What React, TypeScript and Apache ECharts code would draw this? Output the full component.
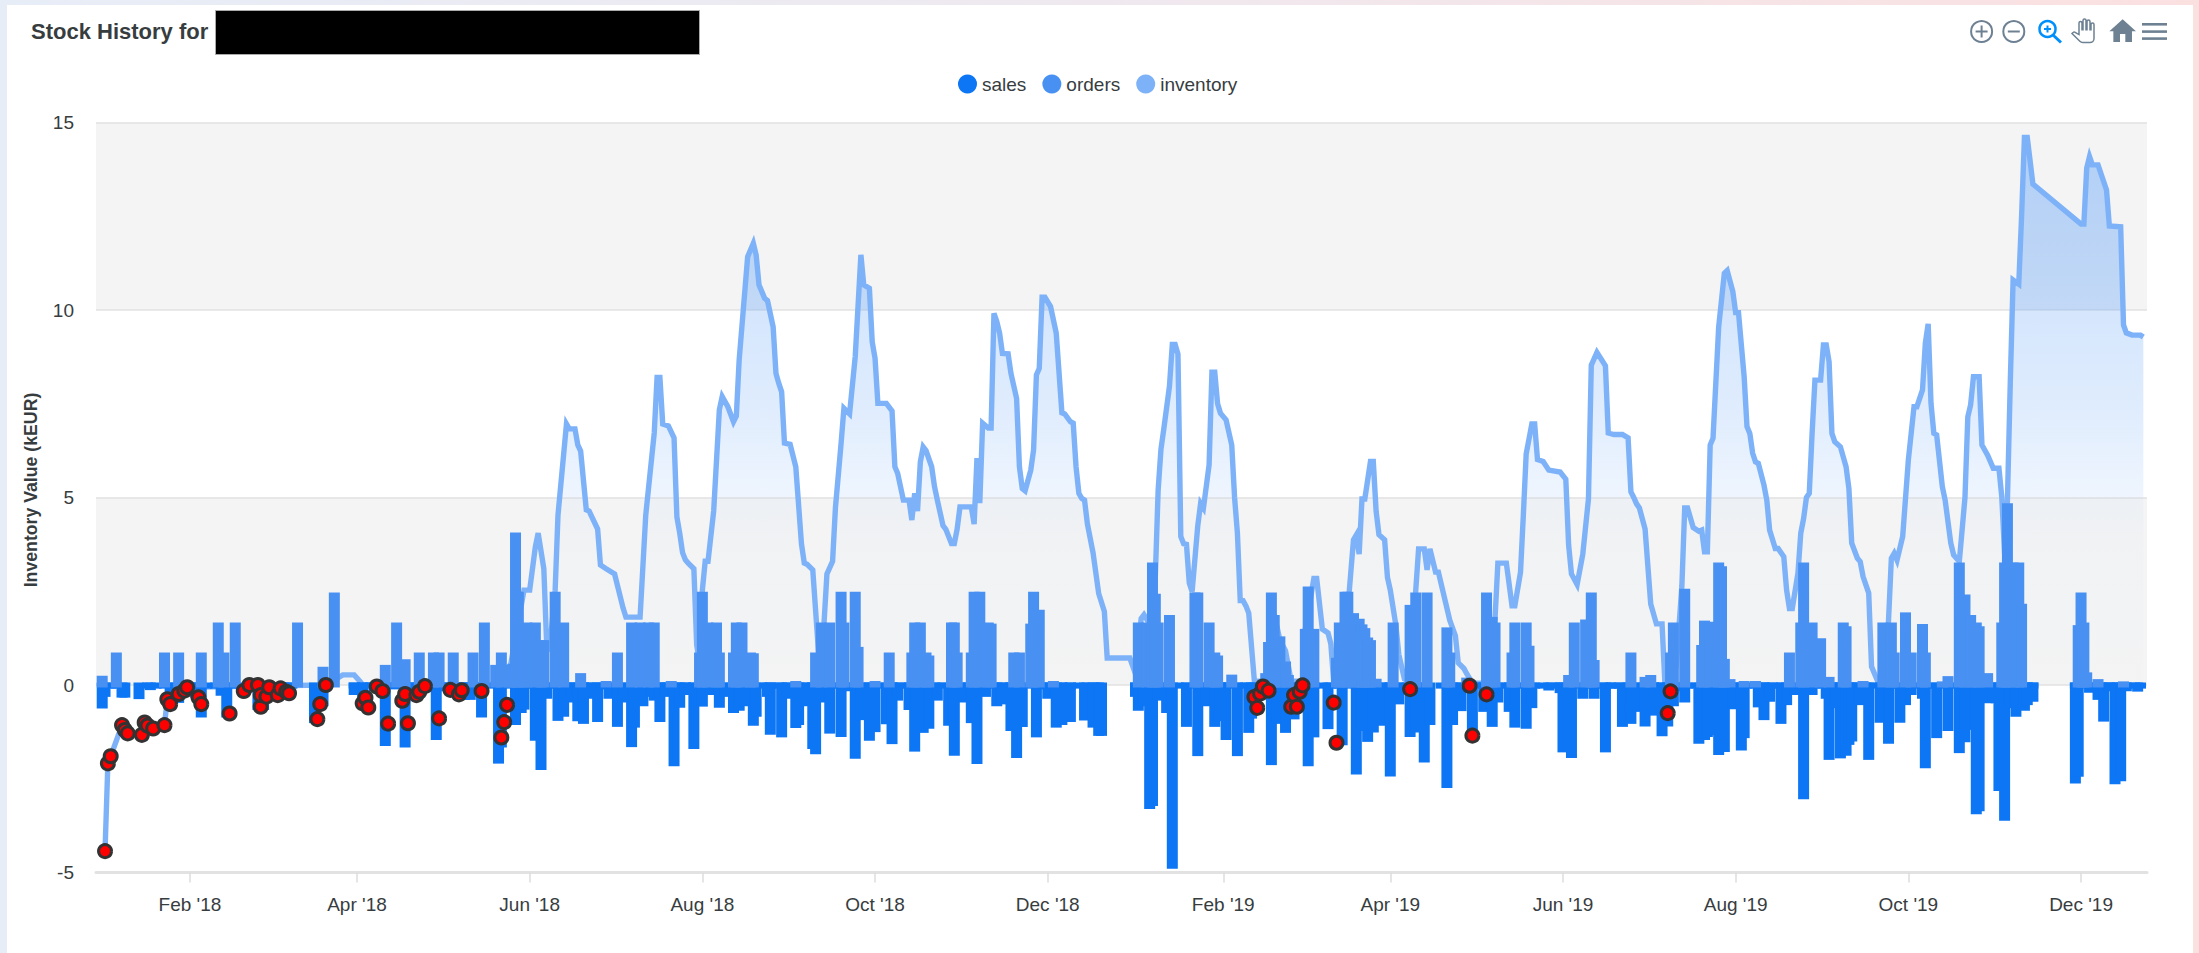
import React, { useEffect, useRef } from "react";
import * as echarts from "echarts";

// All x values below are days counted from 1 Jan 2018.
const tickDays = [31, 90, 151, 212, 273, 334, 396, 455, 516, 577, 638, 699];
const tickLabels = ["Feb '18", "Apr '18", "Jun '18", "Aug '18", "Oct '18", "Dec '18", "Feb '19", "Apr '19", "Jun '19", "Aug '19", "Oct '19", "Dec '19"];

const inventory2018: [number, number][] = [
  [1,-4.43],[2,-2.09],[3,-1.9],[7,-1.07],[8,-1.2],[9,-1.29],[14,-1.33],[15,-1.0],[16,-1.08],[18,-1.16],[22,-1.07],[23,-0.38],[24,-0.51],[27,-0.24],[29,-0.15],[30,-0.06],[79,0],[85,0.27],[89,0.27],[91,0.1],[92,0],[143,0],
  [149,2.53],[151,2.53],[153,3.68],[154,4.05],[156,3.1],[157,1.1],[158,0.9],[160,2.53],[161,4.53],[164,6.96],[165,6.83],[167,6.83],[168,6.4],[169,6.24],[171,4.67],[172,4.64],[175,4.16],[176,3.2],[178,3.1],[181,2.96],[184,2.05],[185,1.81],[190,1.81],[192,4.53],[195,6.72],[196,8.2],[197,8.2],[198,6.96],[200,6.91],[202,6.59],[203,4.48],[204,4.05],[205,3.53],[206,3.34],[207,3.25],[209,3.1],[210,1.07],[211,0.6],[212,2.53],[213,3.3],[214,3.3],[216,4.64],[218,7.34],[219,7.69],[221,7.42],[223,7.02],[224,7.17],[225,8.67],[228,11.42],[230,11.78],[231,11.47],[232,10.67],[234,10.31],[235,10.25],[237,9.55],[238,8.31],[239,8.04],[240,7.82],[241,6.45],[243,6.42],[245,5.82],[247,3.77],[248,3.25],[249,3.22],[251,3.07],[253,0.91],[254,0.05],[255,1.68],[256,2.96],[258,3.3],[259,4.72],[261,6.44],[262,7.38],[264,7.23],[266,8.76],[268,11.47],[269,10.67],[271,10.58],[272,9.15],[273,8.71],[274,7.51],[277,7.51],[279,7.31],[280,5.82],[281,5.64],[283,4.93],[285,4.93],[286,4.4],[287,5.11],[288,4.64],[289,5.95],[290,6.35],[291,6.25],[293,5.82],[294,5.29],[295,4.93],[297,4.25],[298,4.15],[300,3.77],[301,3.77],[302,4.16],[303,4.75],[307,4.75],[308,4.29],[309,6.05],[310,4.85],[311,6.98],[313,6.85],[314,6.85],[315,9.91],[316,9.69],[317,9.38],[318,8.84],[320,8.83],[321,8.31],[323,7.64],[324,5.82],[325,5.24],[326,5.18],[328,5.73],[329,6.27],[330,8.27],[331,8.44],[332,10.34],[333,10.34],[335,10.09],[337,9.38],[339,7.26],[340,7.23],[342,7.02],[343,6.98],[344,5.82],[345,5.11],[346,4.98],[347,4.93],[348,4.3],[350,3.53],[352,2.44],[354,1.96],[355,0.72],[363,0.72],
];

const inventory2019: [number, number][] = [
  [365,0.3],[367,1.77],[368,1.87],[371,1.5],[372,2.9],[373,5.2],[374,6.29],[375,6.83],[377,7.97],[378,9.08],[379,9.08],[380,8.82],[381,3.96],[382,3.77],[383,3.75],[384,2.72],[385,2.49],[387,4.25],[388,4.84],[389,4.72],[391,5.87],[392,8.34],[393,8.34],[394,7.5],[395,7.25],[397,7.07],[399,6.4],[400,5.0],[401,4.05],[402,2.25],[403,2.25],[404,2.11],[405,1.92],[407,0.1],[412,0.1],[414,1.9],[416,1.2],[418,0.91],[420,0.1],[424,0.1],[425,1.5],[428,2.84],[429,2.84],[431,1.49],[433,1.39],[434,1.1],[435,0.1],[438,0.2],[442,3.87],[443,4.0],[444,3.49],[445,4.96],[446,4.96],[448,5.96],[449,5.96],[450,4.63],[451,4.01],[453,3.87],[454,2.87],[455,2.53],[457,1.58],[458,0.82],[460,0.16],[462,0.1],[464,2.53],[465,3.63],[467,3.63],[468,3.07],[469,3.63],[471,3.01],[472,3.01],[475,2.05],[476,1.73],[478,1.31],[479,0.59],[481,0.44],[482,0.3],[484,0.05],[489,0.05],[492,1.77],[493,3.25],[496,3.25],[498,2.11],[499,2.11],[501,3.01],[502,4.53],[503,6.16],[505,6.96],[506,6.96],[507,6.01],[509,5.96],[511,5.73],[515,5.68],[517,5.49],[518,3.73],[519,2.96],[521,2.68],[523,3.49],[525,4.96],[526,8.53],[528,8.87],[531,8.51],[532,6.72],[534,6.68],[537,6.68],[539,6.59],[540,5.15],[541,5.0],[542,4.83],[543,4.72],[545,4.16],[547,2.16],[549,1.63],[551,1.63],[552,0.05],[554,0.05],[556,0.5],[558,2.64],[559,4.72],[560,4.72],[562,4.2],[564,4.1],[565,4.13],[566,3.55],[567,3.55],[568,6.4],[569,6.58],[571,9.55],[573,10.98],[574,11.05],[576,10.49],[577,9.93],[578,9.93],[580,8.22],[581,6.89],[582,6.71],[583,6.18],[584,5.95],[585,5.91],[587,5.33],[588,4.93],[589,4.13],[591,3.64],[592,3.64],[594,3.42],[595,2.53],[596,2.04],[597,2.04],[599,2.98],[600,4.05],[601,4.44],[602,5.0],[603,5.11],[604,6.71],[605,8.13],[607,8.13],[608,9.07],[609,9.07],[610,8.62],[611,6.71],[612,6.49],[614,6.35],[616,5.82],[617,5.24],[618,3.78],[620,3.38],[621,3.29],[622,2.89],[624,2.45],[625,0.49],[627,0.13],[630,0.3],[631,1.73],[632,3.38],[633,3.51],[634,3.33],[636,3.96],[638,6.0],[640,7.42],[641,7.42],[643,7.87],[644,9.11],[645,9.63],[646,7.51],[647,6.71],[648,6.67],[650,5.29],[651,4.93],[653,3.78],[654,3.47],[656,3.29],[658,5.0],[659,7.15],[660,7.47],[661,8.22],[663,8.22],[664,6.4],[666,6.13],[668,5.78],[670,5.78],[671,5.02],[672,3.5],[673,4.93],[674,8.05],[675,10.8],[677,10.69],[678,12.5],[679,14.6],[680,14.6],[682,13.36],[699,12.29],[700,12.29],[701,13.78],[702,14.09],[703,13.87],[705,13.87],[708,13.2],[709,12.24],[713,12.22],[714,9.6],[715,9.39],[717,9.33],[720,9.33],[721,9.28],
];

const stockOuts: [number, number][] = [
  [1,-4.43],[2,-2.09],[3,-1.9],[7,-1.07],[8,-1.2],[9,-1.29],[14,-1.33],[15,-1.0],[16,-1.08],[18,-1.16],[22,-1.07],[23,-0.38],[24,-0.51],[27,-0.24],[29,-0.15],[30,-0.06],[34,-0.33],[35,-0.51],[45,-0.76],[50,-0.16],[52,0],[55,0],[56,-0.58],[56,-0.27],[58,-0.31],[59,-0.06],[62,-0.27],[63,-0.09],[65,-0.18],[66,-0.22],[76,-0.91],[77,-0.51],[79,0],[92,-0.49],[93,-0.34],[94,-0.6],[97,-0.04],[99,-0.16],[101,-1.03],[106,-0.42],[107,-0.24],[108,-1.02],[111,-0.27],[112,-0.18],[114,-0.03],[119,-0.89],[123,-0.13],[126,-0.25],[127,-0.14],[134,-0.16],[141,-1.4],[142,-0.99],[143,-0.53],
  [407,-0.32],[408,-0.61],[409,-0.23],[410,-0.04],[412,-0.15],[420,-0.58],[421,-0.27],[422,-0.58],[423,-0.18],[424,-0.01],[435,-0.47],[436,-1.54],[462,-0.11],[483,-0.02],[484,-1.35],[489,-0.25],[553,-0.75],[554,-0.17],
];

const orders: [number, number][] = [
  [0,0.18],[5,0.8],[22,0.8],[27,0.8],[35,0.8],[41,1.6],[43,0.8],[47,1.6],[69,1.6],[78,0.42],[82,2.4],[100,0.47],[104,1.6],[107,0.62],[112,0.8],[117,0.8],[119,0.8],[124,0.8],[131,0.8],[135,1.6],[139,0.47],[141,0.8],[144,0.47],[145,0.5],[146,4.0],[147,2.42],[149,1.4],[150,1.6],[153,1.6],[155,1.13],[156,1.13],[160,2.42],[163,1.6],[169,0.25],[178,0.04],[182,0.8],[187,1.6],[190,1.6],[193,1.6],[195,1.6],[201,0.04],[211,0.8],[212,2.42],[214,1.6],[217,1.6],[218,0.8],[223,0.8],[224,1.6],[226,1.6],[229,0.8],[230,0.78],[245,0.04],[252,0.8],[254,1.6],[257,1.6],[261,2.42],[262,1.6],[266,2.42],[267,0.95],[273,0.04],[278,0.8],[286,0.8],[287,1.6],[289,1.6],[291,0.8],[292,0.72],[300,1.6],[301,1.6],[302,0.8],[307,0.8],[308,2.42],[310,2.42],[313,1.6],[314,1.57],[322,0.8],[324,0.8],[328,1.57],[329,2.42],[331,1.94],[336,0.04],
  [366,1.6],[369,1.6],[371,3.2],[372,2.37],[373,1.6],[377,1.8],[386,2.4],[387,2.4],[391,1.6],[393,0.8],[394,0.72],[399,0.21],[411,0.25],[412,1.08],[413,2.4],[414,1.8],[416,1.23],[418,0.56],[419,0.2],[425,1.43],[426,2.56],[428,1.43],[436,0.66],[437,1.6],[439,2.42],[440,2.42],[442,1.85],[444,1.7],[445,1.55],[446,1.45],[447,1.2],[448,1.13],[450,0.1],[456,1.6],[462,2.07],[464,2.4],[468,2.4],[475,1.47],[476,0.8],[482,0.13],[489,2.4],[491,1.75],[492,1.6],[498,0.8],[499,1.6],[503,1.6],[504,0.98],[518,0.2],[520,1.6],[524,1.68],[526,2.4],[527,0.6],[540,0.8],[545,0.15],[547,0.2],[554,0.8],[555,1.6],[559,2.5],[565,1.0],[566,1.65],[568,1.62],[571,3.2],[572,3.1],[573,0.63],[575,0.09],[580,0.04],[584,0.04],[596,0.8],[600,1.6],[601,3.2],[604,1.6],[607,1.18],[610,0.15],[615,1.6],[616,1.5],[622,0.04],[629,1.6],[632,1.6],[633,0.8],[637,1.87],[639,0.8],[643,1.56],[644,0.8],[650,0.03],[652,0.17],[656,3.2],[658,2.35],[660,1.8],[662,1.6],[663,1.5],[666,0.25],[671,1.6],[672,3.2],[673,4.78],[675,3.2],[677,3.2],[678,2.1],[698,1.53],[699,2.4],[700,1.6],[701,0.27],[705,0.09],[714,0.03],
];

const sales: [number, number][] = [
  [0,-0.56],[1,-0.25],[7,-0.27],[8,-0.27],[13,-0.31],[17,-0.07],[24,-0.3],[27,-0.41],[33,-0.27],[35,-0.8],[42,-0.22],[44,-0.8],[55,-0.6],[57,-0.6],[60,-0.3],[63,-0.2],[66,-0.2],[75,-0.95],[78,-0.5],[89,-0.2],[92,-0.46],[96,-0.1],[100,-1.56],[103,-0.05],[107,-1.6],[110,-0.1],[114,-0.1],[118,-1.4],[121,-0.1],[125,-0.1],[128,-0.33],[130,-0.33],[134,-0.8],[140,-2.03],[141,-1.6],[146,-1.0],[148,-0.68],[149,-0.59],[153,-1.42],[155,-2.2],[157,-0.3],[161,-0.89],[163,-0.78],[166,-0.4],[168,-0.9],[170,-0.97],[172,-0.3],[175,-0.92],[177,-0.05],[179,-0.3],[182,-1.05],[184,-0.4],[187,-1.59],[188,-1.07],[191,-0.5],[194,-0.25],[195,-0.35],[197,-0.92],[199,-0.25],[202,-2.1],[204,-0.54],[206,-0.2],[209,-1.64],[212,-0.51],[215,-0.2],[218,-0.54],[220,-0.25],[223,-0.68],[225,-0.62],[227,-0.5],[230,-1.02],[231,-0.78],[235,-0.25],[236,-1.26],[240,-1.33],[242,-0.3],[245,-1.08],[246,-1.0],[248,-0.5],[251,-1.64],[252,-1.78],[254,-0.4],[257,-1.23],[261,-1.32],[263,-0.1],[266,-1.9],[268,-0.87],[271,-1.42],[273,-1.19],[277,-0.98],[279,-1.51],[281,-0.35],[285,-0.6],[287,-1.71],[290,-1.21],[292,-1.1],[295,-0.35],[299,-1.02],[301,-1.82],[304,-0.4],[307,-0.95],[309,-2.04],[312,-0.25],[316,-0.5],[318,-0.45],[321,-1.16],[323,-1.88],[325,-1.05],[330,-1.33],[332,-0.05],[334,-0.3],[337,-1.07],[339,-1.0],[342,-0.92],[347,-0.88],[350,-1.07],[352,-1.29],[353,-1.29],
  [365,-0.25],[366,-0.62],[368,-0.5],[370,-3.24],[371,-3.16],[373,-0.35],[376,-0.68],[378,-4.83],[383,-1.05],[387,-1.83],[390,-0.5],[393,-1.05],[395,-0.9],[397,-1.4],[401,-1.83],[405,-1.21],[406,-0.83],[410,-0.3],[413,-2.07],[415,-0.97],[418,-1.21],[421,-0.85],[424,-0.6],[426,-2.1],[428,-1.33],[433,-1.11],[438,-1.54],[443,-2.32],[445,-1.16],[447,-1.45],[449,-1.2],[452,-1.02],[455,-2.37],[458,-0.45],[462,-1.32],[464,-1.2],[467,-2.0],[469,-1.0],[475,-2.68],[477,-1.0],[480,-0.63],[484,-1.3],[488,-0.65],[491,-1.05],[493,-0.4],[497,-0.65],[499,-1.07],[503,-1.1],[505,-0.55],[511,-0.08],[515,-0.15],[516,-1.73],[519,-1.88],[523,-0.3],[527,-0.3],[531,-1.73],[533,-0.03],[537,-1.05],[540,-0.97],[542,-0.65],[545,-1.04],[548,-0.75],[551,-1.3],[553,-1.04],[555,-0.5],[557,-0.1],[559,-0.4],[564,-1.5],[566,-1.4],[567,-1.32],[569,-1.27],[571,-1.8],[573,-1.72],[576,-0.58],[579,-1.68],[580,-1.35],[585,-0.53],[587,-0.87],[589,-0.38],[593,-0.97],[595,-0.47],[598,-0.2],[601,-2.98],[604,-0.2],[609,-0.3],[610,-1.93],[612,-0.55],[614,-1.89],[616,-1.82],[617,-1.53],[618,-1.44],[621,-0.47],[624,-1.93],[628,-0.94],[631,-1.5],[635,-0.94],[637,-0.47],[639,-0.2],[643,-0.3],[644,-2.15],[648,-1.35],[652,-1.16],[656,-1.75],[658,-1.46],[660,-1.13],[662,-3.38],[663,-3.3],[666,-0.42],[669,-0.42],[670,-2.76],[672,-3.55],[674,-0.55],[676,-0.78],[679,-0.62],[680,-0.47],[682,-0.38],[697,-2.56],[698,-2.38],[702,-0.14],[705,-0.33],[707,-0.91],[709,-0.1],[711,-2.58],[713,-2.5],[715,-0.1],[719,-0.11],
];

// Days on which only a trace of sales was booked (the thin band under the zero line).
const salesTraceDays = [3,5,16,19,22,25,28,31,34,37,40,43,46,49,52,55,58,61,64,67,89,92,95,98,101,104,107,110,113,116,119,122,125,128,131,134,137,140,143,146,149,152,155,158,161,164,167,170,173,176,179,182,185,188,191,194,197,200,203,206,209,212,215,218,221,224,227,230,233,236,239,242,245,248,251,254,257,260,263,266,269,272,275,279,282,285,288,291,294,297,300,303,306,309,312,315,318,321,324,327,330,333,336,339,342,345,348,351,365,368,371,374,377,380,383,386,389,392,395,398,401,404,407,410,413,416,419,422,425,428,431,434,437,440,443,446,449,452,455,458,461,464,467,473,476,479,482,485,488,491,494,497,500,503,506,509,512,515,518,521,524,527,530,533,536,539,542,545,548,551,554,557,560,563,566,569,572,575,578,581,584,587,590,593,596,599,602,605,608,611,614,617,620,623,626,629,632,635,638,641,644,647,650,653,656,659,662,665,668,671,674,677,680,682,697,700,703,706,709,712,715,718,720];
const salesTraceValue = -0.03;

const SALES = "#0d76f5";
const ORDERS = "#4891f3";
const INVENTORY = "#7db2f8";
const GREY = "#6e8192";
const INK = "#373d3f";
const FONT = '"Liberation Sans", Arial, sans-serif';

const PAN = "M23 5.5V20c0 2.2-1.8 4-4 4h-7.3c-1.08 0-2.1-.43-2.85-1.19L1 14.83s1.26-1.23 1.3-1.25c.22-.19.49-.29.79-.29.22 0 .42.06.6.16.04.01 4.31 2.46 4.31 2.46V4c0-.83.67-1.5 1.5-1.5S11 3.17 11 4v7h1V1.5c0-.83.67-1.5 1.5-1.5S15 .67 15 1.5V11h1V2.5c0-.83.67-1.5 1.5-1.5s1.5.67 1.5 1.5V11h1V5.5c0-.83.67-1.5 1.5-1.5s1.5.67 1.5 1.5z";
const HOME = "M10 20v-6h4v6h5v-8h3L12 3 2 12h3v8z";
echarts.graphic.registerShape("panIcon", echarts.graphic.extendPath(PAN, {}) as any);
echarts.graphic.registerShape("homeIcon", echarts.graphic.extendPath(HOME, {}) as any);

function barItem(color: string) {
  return (_: any, api: any) => {
    const t = api.value(0);
    const v = api.value(1);
    const end = api.coord([t, v]);
    const zero = api.coord([t, 0]);
    const up = v >= 0;
    const top = up ? end[1] - 2.5 : zero[1] - 2.5;
    const bottom = up ? zero[1] + 2.5 : end[1] + 2.5;
    return {
      type: "rect",
      shape: { x: end[0] - 5.5, y: top, width: 11, height: bottom - top },
      style: { fill: color },
    };
  };
}

function toolbar() {
  const ring = (cx: number, label: string) => [
    { type: "circle", shape: { cx, cy: 31.5, r: 10.5 }, style: { fill: "none", stroke: GREY, lineWidth: 2 } },
    { type: "line", shape: { x1: cx - 6, y1: 31.5, x2: cx + 6, y2: 31.5 }, style: { stroke: GREY, lineWidth: 2 } },
    ...(label === "+" ? [{ type: "line", shape: { x1: cx, y1: 25.5, x2: cx, y2: 37.5 }, style: { stroke: GREY, lineWidth: 2 } }] : []),
  ];
  return [
    ...ring(1981.6, "+"),
    ...ring(2013.8, "-"),
    { type: "circle", shape: { cx: 2047.5, cy: 29, r: 8 }, style: { fill: "none", stroke: "#008ffb", lineWidth: 2.5 } },
    { type: "line", shape: { x1: 2053, y1: 35, x2: 2061, y2: 42.5 }, style: { stroke: "#008ffb", lineWidth: 3 } },
    { type: "line", shape: { x1: 2044, y1: 29, x2: 2051, y2: 29 }, style: { stroke: "#008ffb", lineWidth: 2 } },
    { type: "line", shape: { x1: 2047.5, y1: 25.5, x2: 2047.5, y2: 32.5 }, style: { stroke: "#008ffb", lineWidth: 2 } },
    { type: "panIcon", x: 2071, y: 19, scaleX: 1, scaleY: 0.98, style: { fill: "#fff", stroke: GREY, lineWidth: 1.5 } },
    { type: "homeIcon", x: 2106.7, y: 15.3, scaleX: 1.33, scaleY: 1.33, style: { fill: GREY } },
    { type: "rect", shape: { x: 2142, y: 23, width: 25, height: 2.6 }, style: { fill: GREY } },
    { type: "rect", shape: { x: 2142, y: 30.3, width: 25, height: 2.6 }, style: { fill: GREY } },
    { type: "rect", shape: { x: 2142, y: 37.3, width: 25, height: 2.6 }, style: { fill: GREY } },
  ];
}

export default function App() {
  const ref = useRef<HTMLDivElement>(null);
  useEffect(() => {
    const chart = echarts.init(ref.current!, undefined, { renderer: "svg" });
    chart.setOption({
      animation: false,
      backgroundColor: "transparent",
      title: {
        text: "Stock History for",
        left: 31,
        top: 20,
        padding: 0,
        textStyle: { fontFamily: FONT, fontSize: 22, fontWeight: "bold", color: INK },
      },
      legend: {
        data: ["sales", "orders", "inventory"],
        left: 958,
        top: 74.5,
        padding: 0,
        icon: "circle",
        itemWidth: 19,
        itemHeight: 19,
        itemGap: 16,
        textStyle: { fontFamily: FONT, fontSize: 19, color: INK },
      },
      grid: { left: 96, right: 52, top: 122.5, height: 750, containLabel: false },
      xAxis: {
        type: "value",
        min: -2.19,
        max: 722.3,
        splitLine: { show: false },
        axisLine: { onZero: false, lineStyle: { color: "#e2e2e2", width: 3 } },
        axisTick: { show: true, length: 10, customValues: tickDays, lineStyle: { color: "#dcdcdc", width: 1.5 } },
        axisLabel: {
          customValues: tickDays,
          margin: 22,
          fontFamily: FONT,
          fontSize: 19,
          color: INK,
          hideOverlap: false,
          formatter: (value: number) => tickLabels[tickDays.indexOf(value)] ?? "",
        },
      },
      yAxis: {
        type: "value",
        min: -5,
        max: 15,
        interval: 5,
        axisLine: { show: false },
        axisTick: { show: false },
        splitLine: { show: true, lineStyle: { color: "#e2e2e2", width: 1.5 } },
        splitArea: { show: true, areaStyle: { color: ["rgba(255,255,255,0)", "#f4f4f4"] } },
        axisLabel: {
          margin: 22,
          padding: [0, 0, 6, 0],
          fontFamily: FONT,
          fontSize: 19,
          color: INK,
        },
      },
      graphic: [
        {
          type: "text",
          x: 31,
          y: 490,
          rotation: Math.PI / 2,
          style: {
            text: "Inventory Value (kEUR)",
            align: "center",
            verticalAlign: "middle",
            fontFamily: FONT,
            fontSize: 17.7,
            fontWeight: "bold",
            fill: INK,
          },
        },
        { type: "rect", shape: { x: 215.5, y: 10.5, width: 484, height: 44 }, style: { fill: "#000", stroke: "#aaa", lineWidth: 1 } },
        ...toolbar(),
      ],
      series: [
        {
          name: "inventory",
          type: "line",
          data: [...inventory2018, ...inventory2019],
          showSymbol: false,
          symbol: "none",
          z: 2,
          itemStyle: { color: INVENTORY },
          lineStyle: { color: INVENTORY, width: 5.4, join: "miter", miterLimit: 10, cap: "butt" },
          areaStyle: {
            color: {
              type: "linear",
              x: 0,
              y: 122.5,
              x2: 0,
              y2: 685,
              global: true,
              colorStops: [
                { offset: 0, color: "rgba(125,178,248,0.82)" },
                { offset: 0.333, color: "rgba(125,178,248,0.6)" },
                { offset: 0.333, color: "rgba(125,178,248,0.46)" },
                { offset: 0.493, color: "rgba(125,178,248,0.36)" },
                { offset: 0.666, color: "rgba(125,178,248,0.18)" },
                { offset: 0.666, color: "rgba(125,178,248,0.09)" },
                { offset: 0.76, color: "rgba(125,178,248,0.035)" },
                { offset: 1, color: "rgba(125,178,248,0.01)" },
              ],
            },
          },
        },
        {
          name: "sales",
          type: "custom",
          z: 3,
          itemStyle: { color: SALES },
          encode: { x: 0, y: 1 },
          data: [...salesTraceDays.map((d) => [d, salesTraceValue]), ...sales],
          renderItem: barItem(SALES),
        },
        {
          name: "orders",
          type: "custom",
          z: 4,
          itemStyle: { color: ORDERS },
          encode: { x: 0, y: 1 },
          data: orders,
          renderItem: barItem(ORDERS),
        },
        {
          name: "stock-outs",
          type: "scatter",
          z: 5,
          data: stockOuts,
          symbolSize: 13,
          itemStyle: { color: "#ff0000", borderColor: "#333", borderWidth: 3, opacity: 1 },
        },
      ],
    });
    return () => chart.dispose();
  }, []);

  return (
    <div
      style={{
        position: "fixed",
        inset: 0,
        width: 2199,
        height: 953,
        background: "linear-gradient(90deg, #e7edf7 0%, #efe9ef 50%, #fbe0e0 100%)",
      }}
    >
      <div style={{ position: "absolute", left: 7, top: 5, width: 2186, height: 948, background: "#fff" }} />
      <div ref={ref} style={{ position: "absolute", left: 0, top: 0, width: 2199, height: 953 }} />
    </div>
  );
}
